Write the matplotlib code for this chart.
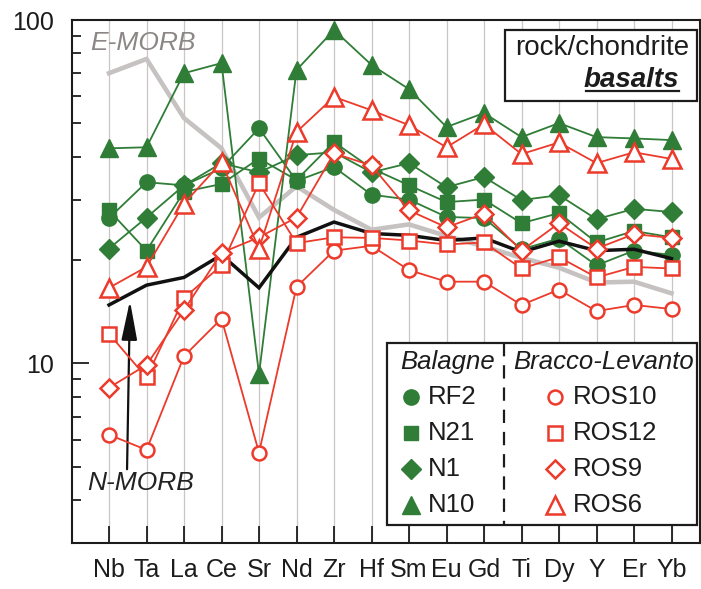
import matplotlib
matplotlib.use('Agg')
import matplotlib.pyplot as plt
from matplotlib.lines import Line2D
from matplotlib.patches import Rectangle
from matplotlib.ticker import FixedLocator, LogLocator, NullFormatter

plt.rcParams['font.family'] = ['Liberation Sans', 'DejaVu Sans']

# --- data (rock/chondrite) ---
elements = ['Nb', 'Ta', 'La', 'Ce', 'Sr', 'Nd', 'Zr', 'Hf', 'Sm', 'Eu', 'Gd', 'Ti', 'Dy', 'Y', 'Er', 'Yb']

# Balagne
RF2 = [26.5, 33.7, 33.0, 37.0, 48.4, 34.0, 37.3, 31.0, 30.0, 26.7, 26.5, 21.5, 23.1, 19.3, 21.3, 20.7]
N21 = [27.9, 21.3, 31.6, 33.3, 39.5, 34.2, 44.1, 37.0, 33.0, 29.5, 30.0, 25.6, 27.4, 22.5, 24.3, 23.3]
N1 = [21.6, 26.6, 33.0, 38.3, 36.0, 40.4, 41.2, 36.0, 38.3, 32.6, 34.9, 29.9, 30.9, 26.3, 28.2, 27.6]
N10 = [42.3, 42.6, 70.0, 74.9, 9.3, 71.5, 93.5, 74.0, 62.9, 48.8, 53.6, 45.6, 50.1, 45.6, 45.2, 44.7]

# Bracco-Levanto
ROS10 = [6.2, 5.6, 10.5, 13.5, 5.5, 16.7, 21.3, 22.0, 18.7, 17.3, 17.3, 14.8, 16.4, 14.2, 14.8, 14.4]
ROS12 = [12.2, 9.1, 15.5, 19.3, 33.5, 22.4, 23.3, 23.2, 22.8, 22.2, 22.5, 18.9, 20.4, 17.8, 19.1, 18.9]
ROS9 = [8.5, 9.9, 14.3, 21.0, 23.3, 26.6, 40.9, 37.7, 27.9, 24.9, 27.3, 21.3, 25.6, 21.6, 23.8, 23.2]
ROS6 = [16.6, 19.1, 29.2, 38.5, 21.6, 47.2, 59.7, 54.6, 49.4, 42.6, 49.7, 40.7, 44.0, 38.3, 41.2, 39.4]

# reference basalts
NMORB = [14.8, 16.9, 17.8, 20.7, 16.6, 23.3, 25.8, 23.9, 23.6, 22.8, 23.2, 21.1, 22.7, 21.3, 21.5, 20.2]
EMORB = [70.0, 77.0, 51.8, 42.3, 26.6, 32.8, 28.0, 24.5, 25.4, 23.5, 21.9, 20.3, 19.0, 17.2, 17.3, 16.0]

balagne = [('RF2', RF2), ('N21', N21), ('N1', N1), ('N10', N10)]
bracco = [('ROS10', ROS10), ('ROS12', ROS12), ('ROS9', ROS9), ('ROS6', ROS6)]

GREEN = '#2f7d36'
RED = '#ec3a2b'
DARK = '#1c1c1c'
markers = ['o', 's', 'D', '^']
green_ms = [11, 10, 10, 13]
red_ms = [10, 9.5, 9.2, 12.5]

W, H = 701, 589


def fp(px, py):
    # pixel position (from top-left) -> figure fraction
    return px / W, 1 - py / H


fig = plt.figure(figsize=(W / 100, H / 100), dpi=100)
ax = fig.add_axes([72 / W, 1 - 543 / H, (700 - 72) / W, (543 - 20) / H])
xs = list(range(len(elements)))

for xi in xs:
    ax.axvline(xi, color='#cbc5c5', lw=0.9, zorder=0)

ax.plot(xs, EMORB, color='#c6c2c2', lw=3.3, zorder=2, solid_joinstyle='miter')
ax.plot(xs, NMORB, color='#111111', lw=2.5, zorder=4, solid_joinstyle='miter')

for (name, vals), m, ms in zip(balagne, markers, green_ms):
    ax.plot(xs, vals, color=GREEN, lw=1.3, marker=m, ms=ms, mfc=GREEN, mec=GREEN, zorder=3)
for (name, vals), m, ms in zip(bracco, markers, red_ms):
    ax.plot(xs, vals, color=RED, lw=1.3, marker=m, ms=ms, mfc='white', mec=RED, mew=1.8, zorder=5)

ax.set_yscale('log')
ax.set_ylim(3, 100)
ax.set_xlim(-0.987, 15.76)
ax.set_xticks(xs)
ax.set_xticklabels(elements)
ax.yaxis.set_major_locator(FixedLocator([10, 100]))
ax.set_yticklabels(['10', '100'])
ax.yaxis.set_minor_locator(LogLocator(base=10, subs=range(2, 10)))
ax.yaxis.set_minor_formatter(NullFormatter())
ax.tick_params(axis='y', which='major', direction='in', length=12, width=1.3,
               labelsize=18, pad=13, colors=DARK)
ax.tick_params(axis='y', which='minor', direction='in', length=6.5, width=1.3, colors=DARK)
ax.tick_params(axis='x', direction='in', length=12, width=1.3, labelsize=18, pad=11, colors=DARK)
for sp in ax.spines.values():
    sp.set_linewidth(1.5)
    sp.set_color(DARK)

# annotations
fig.text(*fp(90, 43), 'E-MORB', color='#8c8686', fontsize=19, style='italic', va='center', ha='left')
fig.text(*fp(87, 483), 'N-MORB', color='#222222', fontsize=19, style='italic', va='center', ha='left')
ax.annotate('', xy=fp(130, 298), xytext=fp(127, 472), xycoords='figure fraction',
            textcoords='figure fraction',
            arrowprops=dict(arrowstyle='-|>,head_length=1.0,head_width=0.2', color='#111111',
                            lw=1.6, mutation_scale=24))

# title box
x0, y0 = fp(505, 101)
fig.add_artist(Rectangle((x0, y0), (697 - 505) / W, (101 - 30) / H, transform=fig.transFigure,
                         facecolor='white', edgecolor=DARK, lw=1.6, zorder=6))
fig.text(*fp(689, 48), 'rock/chondrite', fontsize=20, ha='right', va='center', color=DARK, zorder=7)
bt = fig.text(*fp(679, 80), 'basalts', fontsize=20, ha='right', va='center', color=DARK,
              style='italic', weight='bold', zorder=7)

# legend
lx0, ly0 = fp(387, 525)
fig.add_artist(Rectangle((lx0, ly0), (697 - 387) / W, (525 - 343) / H, transform=fig.transFigure,
                         facecolor='white', edgecolor=DARK, lw=1.6, zorder=6))
fig.add_artist(Line2D([504 / W, 504 / W], [1 - 343 / H, 1 - 525 / H], transform=fig.transFigure,
                      color=DARK, lw=1.6, ls=(0, (6, 4)), zorder=7))
fig.text(*fp(448, 362), 'Balagne', fontsize=18.5, style='italic', ha='center', va='center', color=DARK, zorder=7)
fig.text(*fp(604, 362), 'Bracco-Levanto', fontsize=18.5, style='italic', ha='center', va='center', color=DARK, zorder=7)
rows = [397, 433, 469, 505]
for i, ((name, vals), m, ms) in enumerate(zip(balagne, markers, green_ms)):
    mx, my = fp(411, rows[i])
    fig.add_artist(Line2D([mx], [my], transform=fig.transFigure, marker=m, ms=ms, mfc=GREEN,
                          mec=GREEN, ls='none', zorder=7))
    fig.text(*fp(428, rows[i]), name, fontsize=18.5, ha='left', va='center', color=DARK, zorder=7)
for i, ((name, vals), m, ms) in enumerate(zip(bracco, markers, red_ms)):
    mx, my = fp(555, rows[i])
    fig.add_artist(Line2D([mx], [my], transform=fig.transFigure, marker=m, ms=ms, mfc='white',
                          mec=RED, mew=1.8, ls='none', zorder=7))
    fig.text(*fp(573, rows[i]), name, fontsize=18.5, ha='left', va='center', color=DARK, zorder=7)

# underline "basalts"
fig.canvas.draw()
bb = bt.get_window_extent().transformed(fig.transFigure.inverted())
fig.add_artist(Line2D([bb.x0 + 0.004, bb.x1], [bb.y0 + 0.004, bb.y0 + 0.004], transform=fig.transFigure,
                      color=DARK, lw=1.6, zorder=7))

fig.savefig('out.png', dpi=100)
